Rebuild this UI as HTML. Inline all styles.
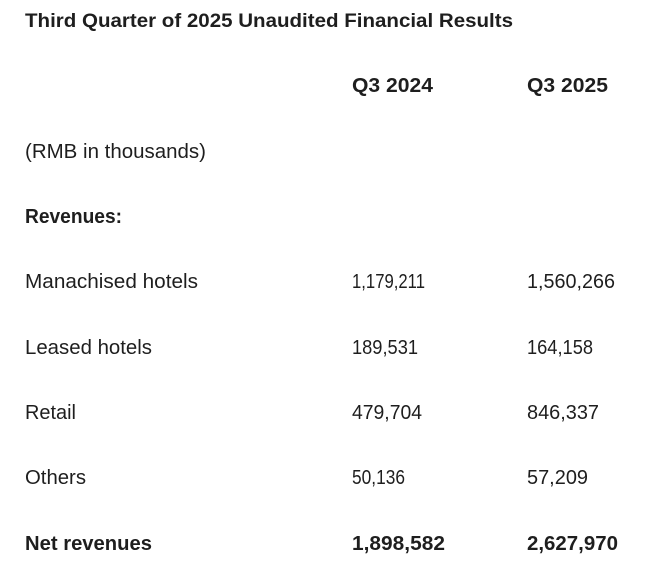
<!DOCTYPE html>
<html><head><meta charset="utf-8"><style>
html,body{margin:0;padding:0;background:#fff;}
svg{display:block}
text{font-family:"Liberation Sans",sans-serif;fill:#1e1e1e;font-size:20px}
.b{font-weight:bold}
</style></head><body>
<svg width="660" height="579" viewBox="0 0 660 579">
<text class="b" x="25" y="27" textLength="488" lengthAdjust="spacingAndGlyphs" style="font-size:19px">Third Quarter of 2025 Unaudited Financial Results</text>
<text class="b" x="352" y="92" textLength="81" lengthAdjust="spacingAndGlyphs">Q3 2024</text>
<text class="b" x="527" y="92" textLength="81" lengthAdjust="spacingAndGlyphs">Q3 2025</text>
<text x="25" y="158" textLength="181" lengthAdjust="spacingAndGlyphs">(RMB in thousands)</text>
<text class="b" x="25" y="223" textLength="97" lengthAdjust="spacingAndGlyphs">Revenues:</text>
<text x="25" y="288" textLength="173" lengthAdjust="spacingAndGlyphs">Manachised hotels</text>
<text x="352" y="288" textLength="73" lengthAdjust="spacingAndGlyphs">1,179,211</text>
<text x="527" y="288" textLength="88" lengthAdjust="spacingAndGlyphs">1,560,266</text>
<text x="25" y="354" textLength="127" lengthAdjust="spacingAndGlyphs">Leased hotels</text>
<text x="352" y="354" textLength="66" lengthAdjust="spacingAndGlyphs">189,531</text>
<text x="527" y="354" textLength="66" lengthAdjust="spacingAndGlyphs">164,158</text>
<text x="25" y="419" textLength="51" lengthAdjust="spacingAndGlyphs">Retail</text>
<text x="352" y="419" textLength="70" lengthAdjust="spacingAndGlyphs">479,704</text>
<text x="527" y="419" textLength="72" lengthAdjust="spacingAndGlyphs">846,337</text>
<text x="25" y="484" textLength="61" lengthAdjust="spacingAndGlyphs">Others</text>
<text x="352" y="484" textLength="53" lengthAdjust="spacingAndGlyphs">50,136</text>
<text x="527" y="484" textLength="61" lengthAdjust="spacingAndGlyphs">57,209</text>
<text class="b" x="25" y="550" textLength="127" lengthAdjust="spacingAndGlyphs">Net revenues</text>
<text class="b" x="352" y="550" textLength="93" lengthAdjust="spacingAndGlyphs">1,898,582</text>
<text class="b" x="527" y="550" textLength="91" lengthAdjust="spacingAndGlyphs">2,627,970</text>
</svg>
</body></html>
